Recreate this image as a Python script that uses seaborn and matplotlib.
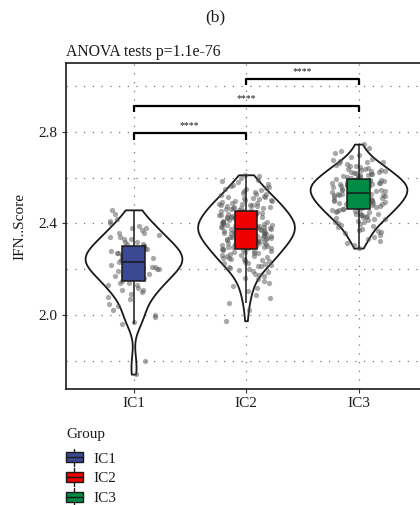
import numpy as np
import pandas as pd
import matplotlib
matplotlib.use("Agg")
import matplotlib.pyplot as plt
import seaborn as sns
from matplotlib.patches import Rectangle, Patch
from matplotlib.lines import Line2D
from matplotlib.legend_handler import HandlerBase

groups = ["IC1", "IC2", "IC3"]
colors = ["#3B4992", "#EE0000", "#008B45"]

ic1 = [1.742, 1.800, 1.960, 1.970, 1.990, 2.000, 2.020, 2.040, 2.050, 2.070,
       2.080, 2.090, 2.100, 2.110, 2.110, 2.120, 2.130, 2.130, 2.140, 2.140,
       2.150, 2.160, 2.160, 2.170, 2.170, 2.180, 2.180, 2.190, 2.190, 2.200,
       2.200, 2.205, 2.210, 2.210, 2.215, 2.220, 2.220, 2.225, 2.230, 2.230,
       2.235, 2.240, 2.240, 2.245, 2.250, 2.250, 2.255, 2.260, 2.260, 2.265,
       2.270, 2.270, 2.275, 2.280, 2.280, 2.285, 2.290, 2.290, 2.300, 2.300,
       2.310, 2.310, 2.320, 2.320, 2.330, 2.330, 2.340, 2.340, 2.350, 2.360,
       2.360, 2.370, 2.380, 2.380, 2.390, 2.400, 2.410, 2.420, 2.440, 2.459]

ic2 = [1.975, 2.021, 2.052, 2.074, 2.087, 2.103, 2.118,
       2.126, 2.138, 2.147, 2.158,
       2.163, 2.169, 2.176, 2.181, 2.187, 2.192, 2.198,
       2.202, 2.205, 2.209, 2.213, 2.216, 2.219, 2.224, 2.227, 2.229, 2.233, 2.236, 2.239,
       2.241, 2.243, 2.246, 2.248, 2.251, 2.254, 2.256, 2.259, 2.261, 2.264, 2.266, 2.269,
       2.271, 2.274, 2.276, 2.279,
       2.281, 2.283, 2.285, 2.287, 2.289, 2.291, 2.293, 2.295, 2.297, 2.299, 2.301, 2.303,
       2.305, 2.307, 2.309, 2.311, 2.313, 2.315, 2.317, 2.319,
       2.321, 2.322, 2.324, 2.326, 2.327, 2.329, 2.331, 2.332, 2.334, 2.336, 2.337, 2.339,
       2.341, 2.342, 2.344, 2.346, 2.347, 2.349, 2.351, 2.352, 2.354, 2.356, 2.357, 2.359,
       2.361, 2.362, 2.364, 2.365, 2.367, 2.368, 2.370, 2.371, 2.373, 2.374, 2.376, 2.377,
       2.379, 2.380, 2.382, 2.383, 2.385, 2.386, 2.388, 2.389, 2.391, 2.392, 2.394, 2.395,
       2.397, 2.398,
       2.401, 2.402, 2.404, 2.405, 2.407, 2.408, 2.410, 2.411, 2.413, 2.414, 2.416, 2.417,
       2.419, 2.420, 2.422, 2.423, 2.425, 2.426, 2.428, 2.429, 2.431, 2.433, 2.435, 2.437, 2.439,
       2.441, 2.443, 2.445, 2.447, 2.449, 2.451, 2.453, 2.455, 2.457, 2.459, 2.461, 2.463,
       2.465, 2.467, 2.469, 2.471, 2.473, 2.475, 2.476, 2.478, 2.479,
       2.481, 2.484, 2.486, 2.489, 2.491, 2.494, 2.496, 2.499, 2.501, 2.504, 2.506, 2.509,
       2.511, 2.514, 2.516, 2.519,
       2.522, 2.526, 2.529, 2.533, 2.537, 2.540, 2.544, 2.548, 2.551, 2.555, 2.558,
       2.563, 2.569, 2.574, 2.580, 2.586, 2.591, 2.597, 2.605, 2.612]

ic3 = [2.292, 2.305, 2.316, 2.324, 2.333, 2.341, 2.349, 2.357,
       2.362, 2.367, 2.372, 2.377, 2.383, 2.388, 2.393, 2.398,
       2.402, 2.405, 2.408, 2.411, 2.414, 2.417, 2.420, 2.423, 2.426, 2.429, 2.432, 2.435, 2.438,
       2.441, 2.443, 2.446, 2.448, 2.450, 2.452, 2.455, 2.457, 2.459, 2.461, 2.464, 2.466,
       2.468, 2.470, 2.473, 2.475, 2.477, 2.479,
       2.481, 2.483, 2.485, 2.486, 2.488, 2.490, 2.492, 2.494, 2.496, 2.497, 2.499, 2.501,
       2.503, 2.505, 2.507, 2.508, 2.510, 2.512, 2.514, 2.516, 2.518, 2.519,
       2.521, 2.522, 2.524, 2.525, 2.527, 2.529, 2.530, 2.532, 2.533, 2.535, 2.537, 2.538,
       2.540, 2.541, 2.543, 2.545, 2.546, 2.548, 2.549, 2.551, 2.553, 2.554, 2.556, 2.557, 2.559,
       2.561, 2.562, 2.564, 2.565, 2.567, 2.569, 2.570, 2.572, 2.573, 2.575, 2.577, 2.578,
       2.580, 2.581, 2.583, 2.585, 2.586, 2.588, 2.589, 2.591, 2.593, 2.594, 2.596, 2.598,
       2.601, 2.603, 2.606, 2.608, 2.610, 2.612, 2.615, 2.617, 2.619, 2.621, 2.624, 2.626,
       2.628, 2.630, 2.633, 2.635, 2.637, 2.639,
       2.642, 2.645, 2.649, 2.652, 2.656, 2.659, 2.663, 2.666, 2.670, 2.673, 2.677,
       2.683, 2.690, 2.698, 2.706, 2.714, 2.728, 2.746]

yticks = [2.0, 2.4, 2.8]
ytick_labels = ["2.0", "2.4", "2.8"]
minor_yticks = [1.8, 2.2, 2.6, 3.0]

comparisons = [("IC1", "IC2", 2.793), ("IC1", "IC3", 2.914), ("IC2", "IC3", 3.032)]
sig_labels = ["****", "****", "****"]

df = pd.DataFrame({
    "Group": ["IC1"] * len(ic1) + ["IC2"] * len(ic2) + ["IC3"] * len(ic3),
    "IFN..Score": ic1 + ic2 + ic3,
})

sns.set_style("white")
plt.rcParams["font.family"] = ["Liberation Serif", "DejaVu Serif"]

fig = plt.figure(figsize=(4.2, 5.05), dpi=100)
ax = fig.add_axes([66 / 420, 116 / 505, 360 / 420, 326 / 505])

np.random.seed(3)
sns.violinplot(data=df, x="Group", y="IFN..Score", order=groups, color="white",
               linecolor="#1a1a1a", linewidth=1.3, inner=None, cut=0,
               bw_method="silverman", bw_adjust=0.85, density_norm="width",
               width=0.86, saturation=1, ax=ax)
n_coll = len(ax.collections)
sns.stripplot(data=df, x="Group", y="IFN..Score", order=groups, color="#555555",
              alpha=0.5, size=3.8, jitter=0.24, linewidth=0, ax=ax)
for c in ax.collections[n_coll:]:
    c.set_zorder(2)

n_patch, n_line = len(ax.patches), len(ax.lines)
sns.boxplot(data=df, x="Group", y="IFN..Score", order=groups, hue="Group",
            hue_order=groups, palette=colors, width=0.2, showfliers=False,
            linecolor="#1a1a1a", linewidth=1.1, saturation=1, legend=False,
            dodge=False, showcaps=False, ax=ax)
for p in ax.patches[n_patch:]:
    p.set_zorder(3)
for ln in ax.lines[n_line:]:
    ln.set_zorder(3.1)

ax.set_xlim(-0.6, 2.6)
ax.set_ylim(1.677, 3.10)
ax.set_yticks(yticks)
ax.set_yticklabels(ytick_labels)
ax.set_yticks(minor_yticks, minor=True)
ax.set_axisbelow(True)
dot = (0, (1, 6))
ax.grid(True, axis="y", which="both", linestyle=dot, color="#777777", linewidth=0.9)
ax.grid(True, axis="x", which="major", linestyle=dot, color="#777777", linewidth=0.9)
ax.tick_params(axis="both", which="major", length=3, width=0.8, color="#333333",
               labelsize=11, labelcolor="#1a1a1a", pad=3, direction="out",
               left=True, bottom=True)
ax.tick_params(axis="y", which="minor", length=0)
for s in ax.spines.values():
    s.set_color("#1a1a1a")
    s.set_linewidth(1.2)

ax.set_xlabel("")
ax.set_ylabel("IFN..Score", fontsize=11, color="#1a1a1a", labelpad=9)

pos = {g: i for i, g in enumerate(groups)}
tip = 0.03
for (a, b, y), lab in zip(comparisons, sig_labels):
    xa, xb = pos[a], pos[b]
    ax.plot([xa, xa, xb, xb], [y - tip, y, y, y - tip], color="black", lw=1.6,
            solid_capstyle="butt", clip_on=False, zorder=4)
    ax.text((xa + xb) / 2, y + 0.012, lab, ha="center", va="bottom", fontsize=7,
            color="#1a1a1a")

ax.text(0.0, 1.008, "ANOVA tests p=1.1e-76", transform=ax.transAxes, ha="left",
        va="bottom", fontsize=11.3, color="#1a1a1a")
fig.text(215 / 420, 1 - 17 / 505, "(b)", ha="center", va="center", fontsize=12.5,
         color="#1a1a1a")


class BoxHandler(HandlerBase):
    def create_artists(self, legend, orig_handle, xdescent, ydescent, width,
                       height, fontsize, trans):
        fc = orig_handle.get_facecolor()
        x0, y0 = -xdescent, -ydescent
        bw = width
        bx = x0
        bh = height * 0.75
        by = y0 + (height - bh) / 2
        rect = Rectangle((bx, by), bw, bh, facecolor=fc, edgecolor="#1a1a1a",
                         lw=1.0, transform=trans)
        med = Line2D([bx, bx + bw], [y0 + height / 2] * 2, color="#1a1a1a",
                     lw=1.0, transform=trans)
        cx = x0 + width / 2
        w1 = Line2D([cx, cx], [by + bh, y0 + height * 1.15], color="#1a1a1a",
                    lw=1.0, transform=trans)
        w2 = Line2D([cx, cx], [by, y0 - height * 0.15], color="#1a1a1a",
                    lw=1.0, transform=trans)
        return [w1, w2, rect, med]


handles = [Patch(facecolor=c, edgecolor="black") for c in colors]
leg = fig.legend(handles, groups, title="Group", loc="upper left",
                 bbox_to_anchor=(66 / 420, 1 - 428 / 505), frameon=False,
                 fontsize=11, title_fontsize=11, handlelength=1.1,
                 handleheight=0.95, handletextpad=0.7, labelspacing=0.32,
                 borderpad=0, borderaxespad=0, alignment="left",
                 handler_map={Patch: BoxHandler()})
leg._legend_box.sep = 7
for t in leg.get_texts():
    t.set_color("#1a1a1a")
leg.get_title().set_color("#1a1a1a")

fig.savefig("out.png", dpi=100)
